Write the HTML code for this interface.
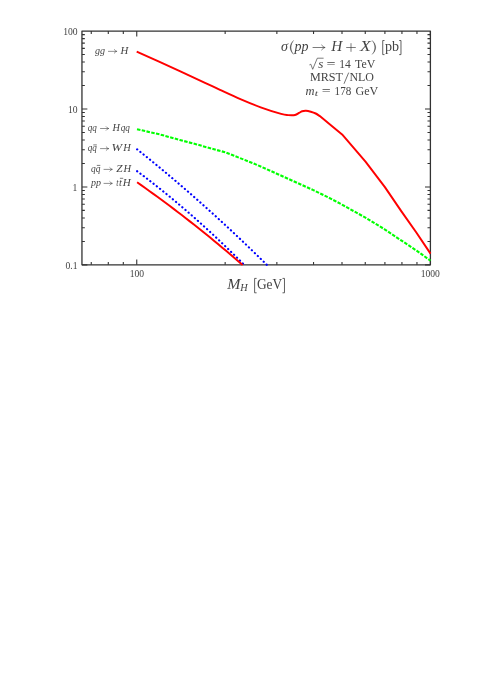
<!DOCTYPE html>
<html><head><meta charset="utf-8"><title>Higgs production cross sections at the LHC</title>
<style>
html,body{margin:0;padding:0;background:#ffffff;}
body{width:491px;height:693px;overflow:hidden;font-family:"Liberation Serif",serif;}
svg{display:block;will-change:transform;}
</style></head><body>
<svg width="491" height="693" viewBox="0 0 491 693">
<rect x="0" y="0" width="491" height="693" fill="#ffffff"/>
<rect x="81.95" y="31.05" width="348.45" height="233.80" fill="none" stroke="#333333" stroke-width="1.3" stroke-linejoin="round"/>
<path d="M91.26,264.85 v-2.9 M91.26,31.05 v2.9 M108.29,264.85 v-2.9 M108.29,31.05 v2.9 M123.31,264.85 v-2.9 M123.31,31.05 v2.9 M136.75,264.85 v-5.4 M136.75,31.05 v5.4 M225.15,264.85 v-2.9 M225.15,31.05 v2.9 M276.86,264.85 v-2.9 M276.86,31.05 v2.9 M313.54,264.85 v-2.9 M313.54,31.05 v2.9 M342.00,264.85 v-2.9 M342.00,31.05 v2.9 M365.25,264.85 v-2.9 M365.25,31.05 v2.9 M384.91,264.85 v-2.9 M384.91,31.05 v2.9 M401.94,264.85 v-2.9 M401.94,31.05 v2.9 M416.96,264.85 v-2.9 M416.96,31.05 v2.9 M430.40,264.85 v-5.4 M430.40,31.05 v5.4 M81.95,264.90 h5.4 M430.4,264.90 h-5.4 M81.95,241.43 h2.9 M430.4,241.43 h-2.9 M81.95,227.71 h2.9 M430.4,227.71 h-2.9 M81.95,217.97 h2.9 M430.4,217.97 h-2.9 M81.95,210.42 h2.9 M430.4,210.42 h-2.9 M81.95,204.24 h2.9 M430.4,204.24 h-2.9 M81.95,199.02 h2.9 M430.4,199.02 h-2.9 M81.95,194.50 h2.9 M430.4,194.50 h-2.9 M81.95,190.52 h2.9 M430.4,190.52 h-2.9 M81.95,186.95 h5.4 M430.4,186.95 h-5.4 M81.95,163.48 h2.9 M430.4,163.48 h-2.9 M81.95,149.76 h2.9 M430.4,149.76 h-2.9 M81.95,140.02 h2.9 M430.4,140.02 h-2.9 M81.95,132.47 h2.9 M430.4,132.47 h-2.9 M81.95,126.29 h2.9 M430.4,126.29 h-2.9 M81.95,121.07 h2.9 M430.4,121.07 h-2.9 M81.95,116.55 h2.9 M430.4,116.55 h-2.9 M81.95,112.57 h2.9 M430.4,112.57 h-2.9 M81.95,109.00 h5.4 M430.4,109.00 h-5.4 M81.95,85.53 h2.9 M430.4,85.53 h-2.9 M81.95,71.81 h2.9 M430.4,71.81 h-2.9 M81.95,62.07 h2.9 M430.4,62.07 h-2.9 M81.95,54.52 h2.9 M430.4,54.52 h-2.9 M81.95,48.34 h2.9 M430.4,48.34 h-2.9 M81.95,43.12 h2.9 M430.4,43.12 h-2.9 M81.95,38.60 h2.9 M430.4,38.60 h-2.9 M81.95,34.62 h2.9 M430.4,34.62 h-2.9" fill="none" stroke="#333333" stroke-width="1.1"/>
<path d="M136.70,51.60 C140.33,53.23 151.13,58.07 158.50,61.40 C165.87,64.73 173.15,68.03 180.90,71.60 C188.65,75.17 198.48,79.77 205.00,82.80 C211.52,85.83 214.10,87.08 220.00,89.80 C225.90,92.52 233.62,96.18 240.40,99.10 C247.18,102.02 253.92,104.83 260.70,107.30 C267.48,109.77 276.53,112.60 281.10,113.90 C285.67,115.20 285.78,114.92 288.10,115.10 C290.42,115.28 293.18,115.37 295.00,115.00 C296.82,114.63 297.82,113.53 299.00,112.90 C300.18,112.27 300.93,111.57 302.10,111.20 C303.27,110.83 304.55,110.62 306.00,110.70 C307.45,110.78 309.18,111.23 310.80,111.70 C312.42,112.17 314.20,112.77 315.70,113.50 C317.20,114.23 319.12,115.67 319.80,116.10 L330.90,125.30 L342.10,134.40 L365.50,161.70 L384.90,187.10 L401.60,211.60 L416.50,232.70 L430.50,253.60" fill="none" stroke="#ff0000" stroke-width="1.95" stroke-linejoin="round"/>
<path d="M137.00,129.20 L160.20,134.50 L179.80,140.00 L196.80,144.40 L211.80,148.70 L225.20,152.30 L253.60,163.40 L276.80,173.70 L296.40,182.50 L313.40,190.10 L328.40,197.50 L341.80,204.50 L365.00,217.40 L384.60,229.30 L401.60,240.70 L416.60,250.60 L430.50,260.70" fill="none" stroke="#00ff00" stroke-width="2.1" stroke-dasharray="3.5 1.37"/>
<path d="M137.10,149.33 L141.15,152.55 L145.21,155.80 L149.26,159.07 L153.31,162.36 L157.36,165.69 L161.42,169.03 L165.47,172.40 L169.52,175.80 L173.57,179.22 L177.63,182.67 L181.68,186.14 L185.73,189.64 L189.79,193.16 L193.84,196.70 L197.89,200.27 L201.94,203.87 L206.00,207.49 L210.05,211.14 L214.10,214.81 L218.15,218.50 L222.21,222.22 L226.26,225.97 L230.31,229.74 L234.37,233.54 L238.42,237.36 L242.47,241.20 L246.52,245.07 L250.58,248.97 L254.63,252.89 L258.68,256.83 L262.73,260.80 L266.79,264.80" fill="none" stroke="#0000ff" stroke-width="2.15" stroke-linecap="round" stroke-dasharray="0.2 3.93"/>
<path d="M137.10,171.16 L141.22,174.23 L145.34,177.34 L149.45,180.50 L153.57,183.70 L157.69,186.94 L161.81,190.22 L165.92,193.54 L170.04,196.91 L174.16,200.32 L178.28,203.78 L182.39,207.27 L186.51,210.81 L190.63,214.39 L194.75,218.01 L198.86,221.68 L202.98,225.39 L207.10,229.14 L211.22,232.93 L215.33,236.76 L219.45,240.64 L223.57,244.56 L227.69,248.52 L231.80,252.53 L235.92,256.58 L240.04,260.67 L244.16,264.80" fill="none" stroke="#0000ff" stroke-width="2.15" stroke-linecap="round" stroke-dasharray="0.2 3.93"/>
<path d="M137.10,182.32 L141.16,185.17 L145.22,188.04 L149.28,190.94 L153.33,193.86 L157.39,196.81 L161.45,199.79 L165.51,202.79 L169.57,205.82 L173.63,208.88 L177.69,211.96 L181.74,215.07 L185.80,218.21 L189.86,221.37 L193.92,224.56 L197.98,227.78 L202.04,231.02 L206.09,234.29 L210.15,237.59 L214.21,240.91 L218.27,244.26 L222.33,247.63 L226.39,251.03 L230.45,254.46 L234.50,257.91 L238.56,261.39 L242.62,264.90" fill="none" stroke="#ff0000" stroke-width="1.95"/>
<g font-family="'Liberation Serif', serif" fill="#444444" >
<text x="77.6" y="34.8" font-size="9.6" text-anchor="end">100</text>
<text x="77.6" y="113.2" font-size="9.6" text-anchor="end">10</text>
<text x="77.4" y="190.8" font-size="9.6" text-anchor="end">1</text>
<text x="77.5" y="268.7" font-size="9.6" text-anchor="end">0.1</text>
<text x="136.9" y="277.2" font-size="9.6" text-anchor="middle">100</text>
<text x="430.3" y="277.0" font-size="9.6" text-anchor="middle">1000</text>
<text x="95.0" y="54.0" font-size="10.2" textLength="10.10" lengthAdjust="spacingAndGlyphs" font-style="italic">gg</text>
<path d="M108.40,51.35 H116.70 M114.30,49.60 Q115.38,50.91 116.70,51.35 Q115.38,51.79 114.30,53.10" fill="none" stroke="#444444" stroke-width="0.6" stroke-linecap="round"/>
<text x="120.5" y="54.0" font-size="10.2" textLength="7.80" lengthAdjust="spacingAndGlyphs" font-style="italic">H</text>
<text x="87.8" y="130.9" font-size="10.2" textLength="9.10" lengthAdjust="spacingAndGlyphs" font-style="italic">qq</text>
<path d="M100.50,128.50 H108.60 M106.20,126.75 Q107.28,128.06 108.60,128.50 Q107.28,128.94 106.20,130.25" fill="none" stroke="#444444" stroke-width="0.6" stroke-linecap="round"/>
<text x="112.5" y="130.9" font-size="10.2" textLength="7.40" lengthAdjust="spacingAndGlyphs" font-style="italic">H</text>
<text x="120.7" y="130.9" font-size="10.2" textLength="9.20" lengthAdjust="spacingAndGlyphs" font-style="italic">qq</text>
<text x="87.8" y="150.9" font-size="10.2" textLength="9.10" lengthAdjust="spacingAndGlyphs" font-style="italic">qq</text>
<path d="M93.3,144.9 h3.5" stroke="#444444" stroke-width="0.7" fill="none"/>
<path d="M100.50,148.60 H108.60 M106.20,146.85 Q107.28,148.16 108.60,148.60 Q107.28,149.04 106.20,150.35" fill="none" stroke="#444444" stroke-width="0.6" stroke-linecap="round"/>
<text x="111.6" y="150.9" font-size="10.2" textLength="10.60" lengthAdjust="spacingAndGlyphs" font-style="italic">W</text>
<text x="123.3" y="150.9" font-size="10.2" textLength="7.50" lengthAdjust="spacingAndGlyphs" font-style="italic">H</text>
<text x="91.1" y="171.7" font-size="10.2" textLength="9.40" lengthAdjust="spacingAndGlyphs" font-style="italic">qq</text>
<path d="M96.8,165.4 h3.5" stroke="#444444" stroke-width="0.7" fill="none"/>
<path d="M104.00,169.40 H112.20 M109.80,167.65 Q110.88,168.96 112.20,169.40 Q110.88,169.84 109.80,171.15" fill="none" stroke="#444444" stroke-width="0.6" stroke-linecap="round"/>
<text x="116.2" y="171.7" font-size="10.2" textLength="6.30" lengthAdjust="spacingAndGlyphs" font-style="italic">Z</text>
<text x="123.4" y="171.7" font-size="10.2" textLength="7.60" lengthAdjust="spacingAndGlyphs" font-style="italic">H</text>
<text x="91.1" y="185.9" font-size="10.2" textLength="10.00" lengthAdjust="spacingAndGlyphs" font-style="italic">pp</text>
<path d="M104.00,183.40 H112.20 M109.80,181.65 Q110.88,182.96 112.20,183.40 Q110.88,183.84 109.80,185.15" fill="none" stroke="#444444" stroke-width="0.6" stroke-linecap="round"/>
<text x="116.2" y="185.9" font-size="10.2" textLength="2.20" lengthAdjust="spacingAndGlyphs" font-style="italic">t</text>
<text x="119.0" y="185.9" font-size="10.2" textLength="2.90" lengthAdjust="spacingAndGlyphs" font-style="italic">t</text>
<path d="M119.9,178.3 h3.3" stroke="#444444" stroke-width="0.7" fill="none"/>
<text x="122.8" y="185.9" font-size="10.2" textLength="8.00" lengthAdjust="spacingAndGlyphs" font-style="italic">H</text>
<text x="280.9" y="50.9" font-size="14.8" textLength="7.00" lengthAdjust="spacingAndGlyphs" font-style="italic">σ</text>
<path d="M293.6,40.4 C289.07,44.60 289.07,50.20 293.6,54.4 C290.22,50.20 290.22,44.60 293.6,40.4 Z" fill="#444444" stroke="#444444" stroke-width="0.3" stroke-linejoin="round"/>
<text x="294.5" y="50.9" font-size="14.8" textLength="14.00" lengthAdjust="spacingAndGlyphs" font-style="italic">pp</text>
<path d="M313.00,47.50 H324.90 M321.66,45.14 Q323.12,46.91 324.90,47.50 Q323.12,48.09 321.66,49.86" fill="none" stroke="#444444" stroke-width="0.7" stroke-linecap="round"/>
<text x="331.2" y="50.9" font-size="14.8" textLength="11.00" lengthAdjust="spacingAndGlyphs" font-style="italic">H</text>
<path d="M346.2,47.5 H355.8 M351.0,43.2 V51.8" stroke="#444444" stroke-width="0.7" fill="none"/>
<text x="360.0" y="50.9" font-size="14.8" textLength="10.80" lengthAdjust="spacingAndGlyphs" font-style="italic">X</text>
<path d="M372.1,40.4 C376.90,44.60 376.90,50.20 372.1,54.4 C375.75,50.20 375.75,44.60 372.1,40.4 Z" fill="#444444" stroke="#444444" stroke-width="0.3" stroke-linejoin="round"/>
<path d="M384.5,40.5 H382.73 V54.6 H384.5" fill="none" stroke="#444444" stroke-width="0.85"/>
<text x="384.9" y="50.9" font-size="14.8" textLength="14.10" lengthAdjust="spacingAndGlyphs">pb</text>
<path d="M399.2,40.5 H400.97 V54.6 H399.2" fill="none" stroke="#444444" stroke-width="0.85"/>
<path d="M309.4,64.9 L310.8,64.2 L312.7,69.3 L317.3,58.2 H323.6" stroke="#444444" stroke-width="0.7" fill="none" stroke-linejoin="miter"/>
<text x="318.3" y="67.5" font-size="12.1" textLength="5.10" lengthAdjust="spacingAndGlyphs" font-style="italic">s</text>
<text x="326.6" y="67.5" font-size="12.1" textLength="9.00" lengthAdjust="spacingAndGlyphs">=</text>
<text x="339.3" y="67.5" font-size="12.1" textLength="11.50" lengthAdjust="spacingAndGlyphs">14</text>
<text x="355.1" y="67.5" font-size="12.1" textLength="20.30" lengthAdjust="spacingAndGlyphs">TeV</text>
<text x="310.0" y="81.0" font-size="12.1" textLength="33.00" lengthAdjust="spacingAndGlyphs">MRST</text>
<path d="M348.7,72.6 L344.0,83.8" stroke="#444444" stroke-width="0.75" fill="none"/>
<text x="349.4" y="81.0" font-size="12.1" textLength="24.60" lengthAdjust="spacingAndGlyphs">NLO</text>
<text x="305.4" y="94.65" font-size="12.1" textLength="9.00" lengthAdjust="spacingAndGlyphs" font-style="italic">m</text>
<text x="314.7" y="96.35000000000001" font-size="8.6" textLength="3.30" lengthAdjust="spacingAndGlyphs" font-style="italic">t</text>
<text x="321.8" y="94.65" font-size="12.1" textLength="8.90" lengthAdjust="spacingAndGlyphs">=</text>
<text x="334.6" y="94.65" font-size="12.1" textLength="16.60" lengthAdjust="spacingAndGlyphs">178</text>
<text x="355.5" y="94.65" font-size="12.1" textLength="22.80" lengthAdjust="spacingAndGlyphs">GeV</text>
<text x="227.2" y="289.2" font-size="14.8" textLength="13.20" lengthAdjust="spacingAndGlyphs" font-style="italic">M</text>
<text x="240.2" y="291.09999999999997" font-size="10.1" textLength="7.40" lengthAdjust="spacingAndGlyphs" font-style="italic">H</text>
<path d="M256.6,278.4 H254.62 V292.8 H256.6" fill="none" stroke="#444444" stroke-width="0.85"/>
<text x="256.9" y="289.2" font-size="14.8" textLength="25.30" lengthAdjust="spacingAndGlyphs">GeV</text>
<path d="M282.5,278.4 H284.47 V292.8 H282.5" fill="none" stroke="#444444" stroke-width="0.85"/>
</g>
</svg>
</body></html>
